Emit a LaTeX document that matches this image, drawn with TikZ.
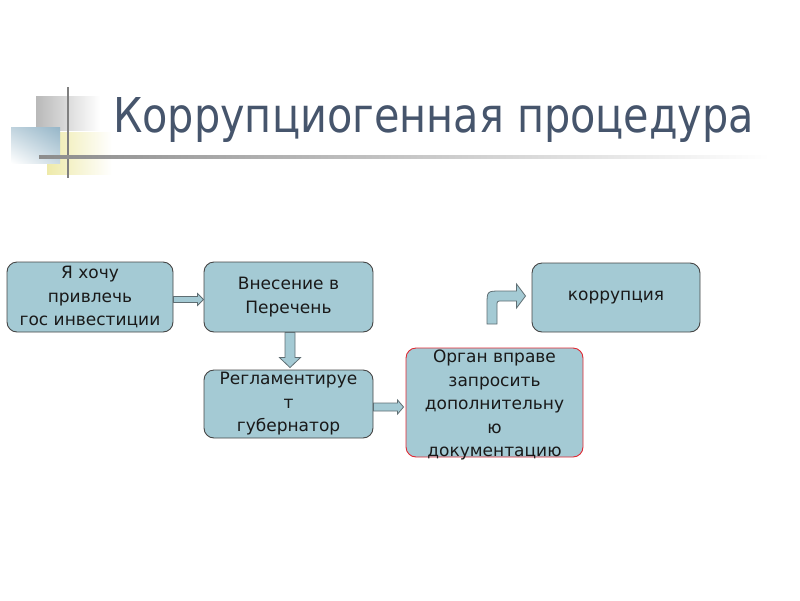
\documentclass[tikz,border=0pt]{standalone}
\usepackage{fontspec}
\setmainfont{DejaVu Sans}
\usepackage{tikz}
\usetikzlibrary{positioning,calc,shadings}
\definecolor{titleblue}{RGB}{70,85,108}
\definecolor{boxblue}{RGB}{164,202,212}
\definecolor{boxedge}{RGB}{70,70,70}
\definecolor{arrowedge}{RGB}{95,110,115}
\definecolor{alertred}{RGB}{225,40,50}
\definecolor{decoblue}{RGB}{150,182,200}
\definecolor{decoyellow}{RGB}{238,234,170}

\begin{document}
\begin{tikzpicture}[
	x=1pt, y=-1pt,
	stepbox/.style={
		rectangle,
		rounded corners=10pt,
		draw=boxedge,
		fill=boxblue,
		line width=0.9pt,
		minimum width=166pt,
		minimum height=70pt,
		inner sep=0pt,
		align=center,
		text=black!90,
		font=\fontsize{17}{23.5}\selectfont
	},
	steptext/.style={
		align=center,
		inner sep=0pt,
		text=black!90,
		font=\fontsize{17}{23.5}\selectfont
	},
	blockarrow/.style={
		fill=boxblue,
		draw=arrowedge,
		line width=0.8pt,
		line join=miter
	},
	decoline/.style={
		draw=gray,
		line width=2pt
	}
	]
	\useasboundingbox (0,0) rectangle (800,600);
	
	% Corner decoration
	\shade[left color=gray!55, right color=white] (36,96) rectangle (100,130);
	\shade[left color=decoyellow, right color=white] (47,132) rectangle (112,174);
	\shade[upper right=decoblue, upper left=decoblue!60!white, lower right=decoblue!50!white, lower left=white] (11,127) rectangle (60,163);
	\draw[decoline] (68,87) -- (68,178);
	\shade[left color=gray!90, right color=white] (39,155.5) rectangle (770,158.5);
	
	% Title
	\node[anchor=base west, inner sep=0pt, text=titleblue, font=\fontsize{48}{52}\selectfont] (title) at (113,132) {\scalebox{0.862}[1]{Коррупциогенная процедура}};
	
	% Boxes
	\node[stepbox] (want) at (90,297) {Я хочу\\привлечь\\гос инвестиции};
	\node[stepbox, minimum width=169pt] (list) at (288.5,297) {Внесение в\\Перечень};
	\node[stepbox, minimum width=169pt, minimum height=68pt] (reg) at (288.5,404) {Регламентируе\\т\\губернатор};
	\node[stepbox, draw=alertred, minimum width=177pt, minimum height=109pt] (organ) at (494.5,402.5) {};
	\node[steptext] (organtext) at (494.5,405) {Орган вправе\\запросить\\дополнительну\\ю\\документацию};
	\node[stepbox, minimum width=168pt, minimum height=69pt] (corr) at (616,297.5) {коррупция};
	
	% Block arrows
	\draw[blockarrow] ($(want.east)+(0,-0.5)$) -- ($(list.west)+(-6,-0.5)$) -- ($(list.west)+(-6,-3.5)$) -- ($(list.west)+(0,2.5)$) -- ($(list.west)+(-6,8.5)$) -- ($(list.west)+(-6,5.5)$) -- ($(want.east)+(0,5.5)$) -- cycle;
	\draw[blockarrow] ($(list.south)+(-3.5,0)$) -- ($(reg.north)+(-3.5,-12)$) -- ($(reg.north)+(-9,-12)$) -- ($(reg.north)+(1.5,-2)$) -- ($(reg.north)+(12,-12)$) -- ($(reg.north)+(6.5,-12)$) -- ($(list.south)+(6.5,0)$) -- cycle;
	\draw[blockarrow] ($(reg.east)+(0,-1)$) -- ($(organ.west)+(-8,0.5)$) -- ($(organ.west)+(-8,-2.5)$) -- ($(organ.west)+(-2,4.5)$) -- ($(organ.west)+(-8,11.5)$) -- ($(organ.west)+(-8,8.5)$) -- ($(reg.east)+(0,7)$) -- cycle;
	
	% Bent arrow to corruption
	\coordinate (bendfoot) at (492,324);
	\draw[blockarrow] ($(bendfoot)+(-5,0)$) -- ($(bendfoot)+(-5,-19)$) .. controls ($(bendfoot)+(-5,-33)$) .. ($(bendfoot)+(9,-33)$) -- ($(corr.west)+(-15,-6.5)$) -- ($(corr.west)+(-15,-13.5)$) -- ($(corr.west)+(-6,-1.5)$) -- ($(corr.west)+(-15,10.5)$) -- ($(corr.west)+(-15,3.5)$) -- ($(bendfoot)+(10,-23)$) .. controls ($(bendfoot)+(5,-23)$) .. ($(bendfoot)+(5,-18)$) -- ($(bendfoot)+(5,0)$) -- cycle;
	
\end{tikzpicture}
\end{document}
